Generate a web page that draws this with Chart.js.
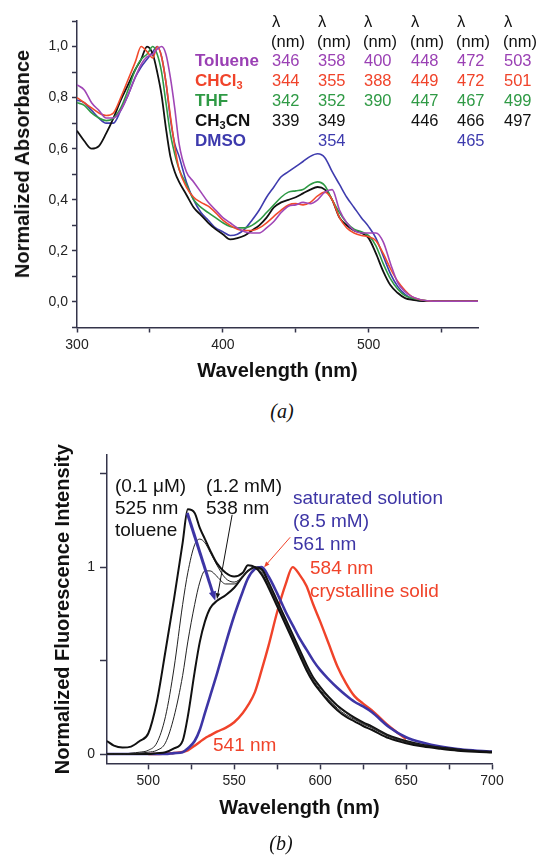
<!DOCTYPE html>
<html>
<head>
<meta charset="utf-8">
<script src="https://cdn.jsdelivr.net/npm/chart.js@4.4.0/dist/chart.umd.min.js"></script>
<style>
  body { margin: 0; background: #fff; width: 541px; height: 857px; position: relative; overflow: hidden;
         font-family: "Liberation Sans", Arial, sans-serif; }
  canvas { position: absolute; left: 0; }
  .t { position: absolute; white-space: nowrap; }
  .tbl { font-size: 16.5px; line-height: 20px; }
  .tbl b { font-size: 17px; }
  .tbl sub { font-size: 11px; line-height: 0; vertical-align: -3px; }
  .note { font-size: 19px; line-height: 22px; }
  .cap { font-family: "Liberation Serif", "Times New Roman", serif; font-style: italic; font-size: 20px;
         line-height: 24px; width: 40px; text-align: center; color: #111; }
  .ytitle { font-size: 20px; font-weight: bold; line-height: 24px; color: #111;
            transform: translate(-50%, -50%) rotate(-90deg); }
</style>
</head>
<body>
<canvas id="absChart" width="541" height="390" style="top:0"></canvas>
<canvas id="flChart" width="541" height="400" style="top:430px"></canvas>
<div id="peakTable"></div>

<div class="t ytitle" style="left:22px;top:164px">Normalized Absorbance</div>
<div class="t note" style="left:115px;top:475px;color:#111">(0.1 μM)<br>525 nm<br>toluene</div>
<div class="t note" style="left:206px;top:475px;color:#111">(1.2 mM)<br>538 nm</div>
<div class="t note" style="left:293px;top:486px;line-height:23px;color:#3d35a5">saturated solution<br>(8.5 mM)<br>561 nm</div>
<div class="t note" style="left:310px;top:556px;line-height:23px;color:#f0432a">584 nm<br>crystalline solid</div>
<div class="t note" style="left:213px;top:734px;color:#f0432a">541 nm</div>
<div class="t cap" style="left:262px;top:399px">(a)</div>
<div class="t cap" style="left:261px;top:831px">(b)</div>

<script>
// ---- panel (a): absorption ----
const absWavelength = [300, 305, 310, 315, 320, 325, 330, 335, 340, 344, 348, 352, 355, 358, 361, 364, 367, 370,
  375, 380, 385, 390, 395, 400, 405, 410, 415, 420, 425, 430, 435, 440, 445, 450, 455, 460, 465, 470, 475, 480,
  485, 490, 495, 500, 505, 510, 515, 520, 525, 530, 540, 550, 560, 575];
const absToluene = [0.85, 0.83, 0.78, 0.75, 0.72, 0.72, 0.75, 0.81, 0.88, 0.93, 0.96, 0.97, 0.99, 1.0, 0.97, 0.88, 0.76, 0.62,
  0.51, 0.47, 0.43, 0.39, 0.36, 0.33, 0.31, 0.29, 0.275, 0.27, 0.27, 0.29, 0.315, 0.35, 0.375, 0.38, 0.39, 0.385, 0.40, 0.43, 0.44, 0.36,
  0.31, 0.28, 0.27, 0.27, 0.27, 0.235, 0.15, 0.075, 0.04, 0.02, 0.005, 0.003, 0.003, 0.003];
const absCHCl3 = [0.80, 0.78, 0.76, 0.74, 0.73, 0.74, 0.80, 0.87, 0.94, 1.0, 0.98, 0.955, 1.0, 0.96, 0.86, 0.73, 0.61, 0.52,
  0.45, 0.41, 0.39, 0.375, 0.35, 0.32, 0.30, 0.285, 0.28, 0.28, 0.29, 0.31, 0.335, 0.36, 0.38, 0.385, 0.38, 0.39, 0.415, 0.43, 0.40, 0.33,
  0.29, 0.27, 0.26, 0.255, 0.24, 0.19, 0.13, 0.08, 0.045, 0.02, 0.005, 0.003, 0.003, 0.003];
const absTHF = [0.78, 0.77, 0.74, 0.72, 0.71, 0.72, 0.76, 0.83, 0.91, 0.95, 0.97, 1.0, 0.97, 0.90, 0.78, 0.66, 0.58, 0.52,
  0.46, 0.40, 0.37, 0.35, 0.33, 0.31, 0.295, 0.29, 0.29, 0.30, 0.32, 0.35, 0.38, 0.41, 0.43, 0.435, 0.44, 0.46, 0.47, 0.455, 0.40, 0.35,
  0.31, 0.285, 0.275, 0.26, 0.22, 0.15, 0.09, 0.05, 0.025, 0.015, 0.005, 0.003, 0.003, 0.003];
const absCH3CN = [0.67, 0.63, 0.60, 0.61, 0.66, 0.72, 0.79, 0.85, 0.91, 0.95, 1.0, 0.97, 0.90, 0.81, 0.68, 0.57, 0.51, 0.47,
  0.42, 0.37, 0.34, 0.31, 0.285, 0.265, 0.245, 0.25, 0.26, 0.28, 0.30, 0.33, 0.37, 0.39, 0.40, 0.41, 0.425, 0.44, 0.45, 0.44, 0.40, 0.33,
  0.30, 0.28, 0.27, 0.25, 0.19, 0.12, 0.065, 0.035, 0.015, 0.008, 0.003, 0.003, 0.003, 0.003];
const absDMSO = [0.79, 0.78, 0.75, 0.72, 0.70, 0.70, 0.75, 0.81, 0.88, 0.92, 0.95, 0.98, 1.0, 0.96, 0.86, 0.72, 0.62, 0.57,
  0.47, 0.40, 0.35, 0.32, 0.29, 0.275, 0.26, 0.265, 0.285, 0.32, 0.36, 0.41, 0.45, 0.49, 0.51, 0.53, 0.55, 0.57, 0.58, 0.565, 0.51, 0.46,
  0.41, 0.37, 0.33, 0.295, 0.25, 0.18, 0.11, 0.06, 0.03, 0.012, 0.003, 0.003, 0.003, 0.003];
const absXTickLabels = ['300', '400', '500'];
const absYTickLabels = ['0,0', '0,2', '0,4', '0,6', '0,8', '1,0'];

// peak table shown in panel (a)
const solventNames = ['Toluene', 'CHCl<sub>3</sub>', 'THF', 'CH<sub>3</sub>CN', 'DMSO'];
const solventColors = ['#9a40b4', '#f0432a', '#2f9a45', '#111111', '#3d3aad'];
const peakTable = [
  ['346', '358', '400', '448', '472', '503'],
  ['344', '355', '388', '449', '472', '501'],
  ['342', '352', '390', '447', '467', '499'],
  ['339', '349', '', '446', '466', '497'],
  ['', '354', '', '', '465', '']
];

// ---- panel (b): fluorescence ----
const flWavelength = [476, 480, 485, 490, 495, 500, 505, 510, 515, 520, 523, 527, 530, 533, 536, 540, 545, 550, 555, 558,
  562, 566, 570, 575, 580, 584, 588, 592, 596, 600, 605, 610, 615, 620, 625, 630, 640, 650, 660, 670, 680, 690, 700];
const flToluene01uM = [0.07, 0.045, 0.035, 0.04, 0.07, 0.11, 0.28, 0.55, 0.83, 1.13, 1.31, 1.29, 1.21, 1.15, 1.09, 1.02, 0.97, 0.95, 0.97, 1.01,
  1.0, 0.96, 0.89, 0.79, 0.69, 0.61, 0.53, 0.45, 0.385, 0.335, 0.28, 0.235, 0.20, 0.175, 0.15, 0.13, 0.085, 0.058, 0.04, 0.028, 0.018, 0.012, 0.008];
const flMidA = [0, 0, 0, 0.005, 0.01, 0.02, 0.06, 0.2, 0.46, 0.80, 0.97, 1.12, 1.15, 1.13, 1.08, 1.01, 0.94, 0.92, 0.95, 0.98,
  1.0, 0.97, 0.90, 0.80, 0.70, 0.62, 0.54, 0.46, 0.395, 0.345, 0.29, 0.245, 0.21, 0.185, 0.16, 0.14, 0.093, 0.064, 0.045, 0.032, 0.022, 0.015, 0.01];
const flMidB = [0, 0, 0, 0, 0.005, 0.01, 0.02, 0.06, 0.2, 0.42, 0.6, 0.80, 0.92, 0.98, 0.98, 0.95, 0.91, 0.91, 0.95, 0.98,
  1.0, 0.98, 0.91, 0.81, 0.71, 0.63, 0.55, 0.47, 0.405, 0.355, 0.30, 0.255, 0.22, 0.19, 0.165, 0.145, 0.097, 0.067, 0.047, 0.034, 0.024, 0.016, 0.011];
const fl12mM = [0, 0, 0, 0, 0, 0, 0.005, 0.01, 0.03, 0.07, 0.2, 0.44, 0.6, 0.71, 0.78, 0.82, 0.85, 0.89, 0.95, 0.98,
  1.0, 0.99, 0.92, 0.82, 0.72, 0.64, 0.56, 0.48, 0.41, 0.36, 0.305, 0.26, 0.225, 0.195, 0.17, 0.148, 0.1, 0.07, 0.049, 0.035, 0.025, 0.017, 0.012];
const flSaturated = [0, 0, 0, 0, 0, 0, 0, 0, 0.005, 0.01, 0.03, 0.07, 0.13, 0.22, 0.31, 0.43, 0.59, 0.74, 0.87, 0.94,
  0.99, 1.0, 0.95, 0.86, 0.76, 0.69, 0.62, 0.56, 0.50, 0.45, 0.40, 0.355, 0.315, 0.28, 0.255, 0.225, 0.145, 0.09, 0.06, 0.04, 0.027, 0.019, 0.013];
const flCrystal = [null, null, null, null, null, 0, 0, 0.003, 0.006, 0.012, 0.02, 0.045, 0.065, 0.085, 0.10, 0.12, 0.14, 0.17, 0.22, 0.26,
  0.33, 0.45, 0.58, 0.76, 0.91, 1.0, 0.96, 0.90, 0.80, 0.71, 0.59, 0.47, 0.38, 0.31, 0.27, 0.235, 0.15, 0.08, null, null, null, null, null];
const flXTickLabels = ['500', '550', '600', '650', '700'];
const flYTickLabels = ['0', '1'];
// annotation arrows, in data units: [wavelength, intensity]
const flArrows = [
  { from: [522.7, 1.29], to: [539, 0.82], color: '#3d35a5', width: 3, head: 10 },
  { from: [548.8, 1.28], to: [540, 0.83], color: '#111111', width: 1, head: 6 },
  { from: [582.6, 1.16], to: [567.4, 1.0], color: '#f0432a', width: 1, head: 6 }
];

const FONT = '"Liberation Sans", Arial, sans-serif';
const axisColor = '#34344a';

function toPoints(xs, ys) {
  return xs.map((x, i) => ({ x: x, y: ys[i] })).filter(p => p.y !== null);
}
function line(label, xs, ys, color, width) {
  return { label: label, data: toPoints(xs, ys), borderColor: color, borderWidth: width,
           pointRadius: 0, cubicInterpolationMode: 'monotone', fill: false };
}
function pickTick(labels, fmt) {
  return function (value) {
    const s = fmt(value);
    return labels.includes(s) ? s : '';
  };
}

// peak table as text
let html = '';
const colX = [272, 318, 364, 411, 457, 504];
colX.forEach(x => {
  html += `<div class="t tbl" style="left:${x}px;top:11px;color:#111">λ</div>`;
  html += `<div class="t tbl" style="left:${x - 1}px;top:31px;color:#111">(nm)</div>`;
});
solventNames.forEach((name, r) => {
  const top = 50 + r * 20;
  html += `<div class="t tbl" style="left:195px;top:${top}px;color:${solventColors[r]}"><b>${name}</b></div>`;
  peakTable[r].forEach((v, c) => {
    if (v) html += `<div class="t tbl" style="left:${colX[c]}px;top:${top}px;color:${solventColors[r]}">${v}</div>`;
  });
});
document.getElementById('peakTable').innerHTML = html;

new Chart(document.getElementById('absChart'), {
  type: 'line',
  data: {
    datasets: [
      line('Toluene', absWavelength, absToluene, '#a046b6', 1.6),
      line('CHCl3', absWavelength, absCHCl3, '#f24a2c', 1.6),
      line('THF', absWavelength, absTHF, '#2f9a45', 1.6),
      line('CH3CN', absWavelength, absCH3CN, '#111111', 1.8),
      line('DMSO', absWavelength, absDMSO, '#3f3cae', 1.6)
    ]
  },
  options: {
    responsive: false,
    animation: false,
    devicePixelRatio: 1,
    layout: { padding: { top: 21, right: 63, left: 0, bottom: 0 } },
    plugins: { legend: { display: false }, tooltip: { enabled: false } },
    scales: {
      x: {
        type: 'linear', min: 300, max: 575,
        ticks: { stepSize: 50, includeBounds: false, autoSkip: false, maxRotation: 0, padding: 4, color: '#222',
                 font: { size: 14, family: FONT },
                 callback: pickTick(absXTickLabels, v => String(Math.round(v))) },
        grid: { drawOnChartArea: false, tickLength: 5, tickColor: axisColor, tickWidth: 1.5 },
        border: { color: axisColor, width: 1.5 },
        title: { display: true, text: 'Wavelength (nm)', color: '#111',
                 font: { size: 20, weight: 'bold', family: FONT }, padding: { top: 0, bottom: 7 } },
        afterFit: s => { s.height = 62.5; }
      },
      y: {
        min: -0.1, max: 1.1,
        ticks: { stepSize: 0.1, includeBounds: false, autoSkip: false, padding: 4, color: '#222',
                 font: { size: 14, family: FONT },
                 callback: pickTick(absYTickLabels, v => (Math.round(v * 10) / 10).toFixed(1).replace('.', ',')) },
        grid: { drawOnChartArea: false, tickLength: 5, tickColor: axisColor, tickWidth: 1.5 },
        border: { color: axisColor, width: 1.5 },
        title: { display: false },
        afterFit: s => { s.width = 77; }
      }
    }
  }
});

const arrowPlugin = {
  id: 'flArrows',
  afterDatasetsDraw(chart) {
    const { ctx, scales: { x, y } } = chart;
    flArrows.forEach(a => {
      const x0 = x.getPixelForValue(a.from[0]), y0 = y.getPixelForValue(a.from[1]);
      const x1 = x.getPixelForValue(a.to[0]), y1 = y.getPixelForValue(a.to[1]);
      const ang = Math.atan2(y1 - y0, x1 - x0);
      ctx.save();
      ctx.strokeStyle = a.color;
      ctx.fillStyle = a.color;
      ctx.lineWidth = a.width;
      ctx.beginPath();
      ctx.moveTo(x0, y0);
      ctx.lineTo(x1 - Math.cos(ang) * a.head * 0.7, y1 - Math.sin(ang) * a.head * 0.7);
      ctx.stroke();
      ctx.beginPath();
      ctx.moveTo(x1, y1);
      ctx.lineTo(x1 - a.head * Math.cos(ang - 0.38), y1 - a.head * Math.sin(ang - 0.38));
      ctx.lineTo(x1 - a.head * Math.cos(ang + 0.38), y1 - a.head * Math.sin(ang + 0.38));
      ctx.closePath();
      ctx.fill();
      ctx.restore();
    });
  }
};

new Chart(document.getElementById('flChart'), {
  type: 'line',
  data: {
    datasets: [
      line('0.1 uM', flWavelength, flToluene01uM, '#111111', 2),
      line('intermediate 1', flWavelength, flMidA, '#222222', 1),
      line('intermediate 2', flWavelength, flMidB, '#222222', 1),
      line('1.2 mM', flWavelength, fl12mM, '#111111', 2),
      line('saturated', flWavelength, flSaturated, '#3d35a5', 2.6),
      line('crystalline solid', flWavelength, flCrystal, '#f0432a', 2.4)
    ]
  },
  options: {
    responsive: false,
    animation: false,
    devicePixelRatio: 1,
    layout: { padding: { top: 25, right: 49, left: 0, bottom: 0 } },
    plugins: { legend: { display: false }, tooltip: { enabled: false } },
    scales: {
      x: {
        type: 'linear', min: 476, max: 700,
        ticks: { stepSize: 25, includeBounds: false, autoSkip: false, maxRotation: 0, padding: 3, color: '#222',
                 font: { size: 14, family: FONT },
                 callback: pickTick(flXTickLabels, v => String(Math.round(v))) },
        grid: { drawOnChartArea: false, tickLength: 6, tickColor: axisColor, tickWidth: 1.5 },
        border: { color: axisColor, width: 1.5 },
        title: { display: true, text: 'Wavelength (nm)', color: '#111',
                 font: { size: 20, weight: 'bold', family: FONT }, padding: { top: 0, bottom: 10 } },
        afterFit: s => { s.height = 66.6; }
      },
      y: {
        min: -0.05, max: 1.6,
        ticks: { stepSize: 0.5, includeBounds: false, autoSkip: false, padding: 5, color: '#222',
                 font: { size: 14, family: FONT },
                 callback: pickTick(flYTickLabels, v => String(Math.round(v * 2) / 2)) },
        grid: { drawOnChartArea: false, tickLength: 7, tickColor: axisColor, tickWidth: 1.5 },
        border: { color: axisColor, width: 1.5 },
        title: { display: true, text: 'Normalized Fluorescence Intensity', color: '#111',
                 font: { size: 20, weight: 'bold', family: FONT }, padding: { top: 51.5, bottom: 0 } },
        afterFit: s => { s.width = 107; }
      }
    }
  },
  plugins: [arrowPlugin]
});
</script>
</body>
</html>
